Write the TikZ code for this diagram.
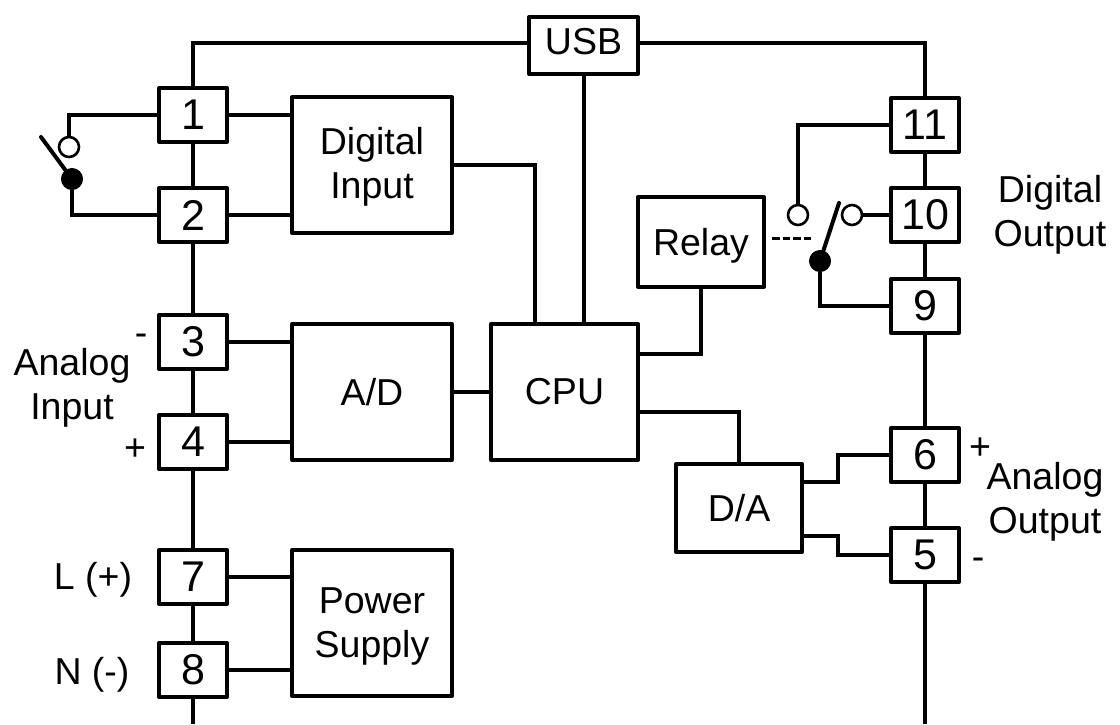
\documentclass[tikz,border=0pt]{standalone}
\usepackage{fontspec}
\setmainfont{Liberation Sans}
\usetikzlibrary{positioning}
\tikzset{block/.style={rectangle, draw=black, fill=white, line width=4pt, line join=round, inner sep=0pt, align=center, font=\fontsize{37.5}{44}\selectfont},
pin/.style={block, minimum width=68pt, minimum height=54pt, font=\fontsize{43}{46}\selectfont},
note/.style={align=center, inner sep=0pt, font=\fontsize{37.5}{44}\selectfont},
opencontact/.style={circle, draw=black, fill=white, line width=2.6pt, minimum size=20pt, inner sep=0pt},
closedcontact/.style={circle, draw=black, fill=black, line width=1pt, minimum size=21pt, inner sep=0pt},
wire/.style={line width=4pt}}

\begin{document}
\begin{tikzpicture}[x=1pt,y=-1pt]
		\useasboundingbox (0,0) rectangle (1120,724);
		% blocks
		\node[block,minimum width=109pt,minimum height=57pt,text depth=8pt] (usb) at (583.5,45.5) {USB};
		\node[block,minimum width=160pt,minimum height=136pt,text depth=4pt] (digin) at (372,165) {Digital\\ Input};
		\node[block,minimum width=160pt,minimum height=136pt] (adc) at (372,392) {A/D};
		\node[block,minimum width=160pt,minimum height=146pt,text depth=-8pt] (power) at (372,623) {Power\\ Supply};
		\node[block,minimum width=147pt,minimum height=136pt] (cpu) at (564.5,392) {CPU};
		\node[block,minimum width=126pt,minimum height=90pt,text depth=0pt] (relay) at (701,242) {Relay};
		\node[block,minimum width=126pt,minimum height=88pt,text depth=-4pt] (dac) at (739,508) {D/A};
		% terminals
		\node[pin] (one) at (193,115) {1};
		\node[pin] (two) at (193,215) {2};
		\node[pin] (three) at (193,342) {3};
		\node[pin] (four) at (193,442) {4};
		\node[pin] (seven) at (193,577) {7};
		\node[pin] (eight) at (193,670) {8};
		\node[pin] (eleven) at (925,125) {11};
		\node[pin] (ten) at (925,215) {10};
		\node[pin] (nine) at (925,306) {9};
		\node[pin] (six) at (925,455) {6};
		\node[pin] (five) at (925,555) {5};
		% contacts
		\node[opencontact] (lopen) at (69,147) {};
		\node[closedcontact] (lcom) at (72,179) {};
		\node[opencontact] (ropen) at (798,215) {};
		\node[opencontact] (rclosed) at (852,215) {};
		\node[closedcontact] (rcom) at (820,261) {};
		\coordinate (ltip) at (41,137);
		\coordinate (rtip) at (839,203);
		\coordinate (dashl) at (772,238);
		\coordinate (dashr) at (811,238);
		\coordinate (usbl) at (529,43);
		\coordinate (usbr) at (638,43);
		\coordinate (cpuin) at (535,324);
		\coordinate (cpuup) at (638,354);
		\coordinate (cpudown) at (638,412);
		\coordinate (dacup) at (802,482);
		\coordinate (dacdown) at (802,536);
		\coordinate (lend) at (193,724);
		\coordinate (rend) at (925,724);
		% left and right bus
		\draw[wire] (usbl) -| (one.north);
		\draw[wire] (usbr) -| (eleven.north);
		\draw[wire] (one.south) -- (two.north) (two.south) -- (three.north) (three.south) -- (four.north) (four.south) -- (seven.north) (seven.south) -- (eight.north) (eight.south) -- (lend);
		\draw[wire] (eleven.south) -- (ten.north) (ten.south) -- (nine.north) (nine.south) -- (six.north) (six.south) -- (five.north) (five.south) -- (rend);
		% signal wires
		\draw[wire] (one.east) -- (digin.west |- one.east) (two.east) -- (digin.west |- two.east);
		\draw[wire] (three.east) -- (adc.west |- three.east) (four.east) -- (adc.west |- four.east);
		\draw[wire] (seven.east) -- (power.west |- seven.east) (eight.east) -- (power.west |- eight.east);
		\draw[wire] (digin.east) -| (cpuin);
		\draw[wire] (usb.south) -- (usb.south |- cpu.north);
		\draw[wire] (adc.east) -- (cpu.west);
		\draw[wire] (cpuup) -| (relay.south);
		\draw[wire] (cpudown) -| (dac.north);
		\draw[wire] (dacup) -- ++(36,0) |- (six.west);
		\draw[wire] (dacdown) -- ++(36,0) |- (five.west);
		% switches
		\draw[wire] (one.west) -| (lopen.north);
		\draw[wire] (two.west) -| (lcom.south);
		\draw[wire,line cap=round] (ltip) -- (lcom);
		\draw[wire] (eleven.west) -| (ropen.north);
		\draw[wire] (nine.west) -| (rcom.south);
		\draw[wire] (ten.west) -- (rclosed.east);
		\draw[wire,line cap=round] (rtip) -- (rcom);
		\draw[line width=3pt,dash pattern=on 7.5pt off 3pt] (dashl) -- (dashr);
		% labels
		\node[note] (dout) at (1050,215) {Digital\\ Output};
		\node[note] (aout) at (1045,502) {Analog\\ Output};
		\node[note] (ain) at (72,388) {Analog\\ Input};
		\node[note] (lplus) at (93,580) {L (+)};
		\node[note] (nminus) at (92,675) {N (-)};
		\node[note] (minthree) at (141,340) {-};
		\node[note] (plusfour) at (135,450) {+};
		\node[note] (plussix) at (980,449) {+};
		\node[note] (minfive) at (978,564) {-};
		\end{tikzpicture}
\end{document}
